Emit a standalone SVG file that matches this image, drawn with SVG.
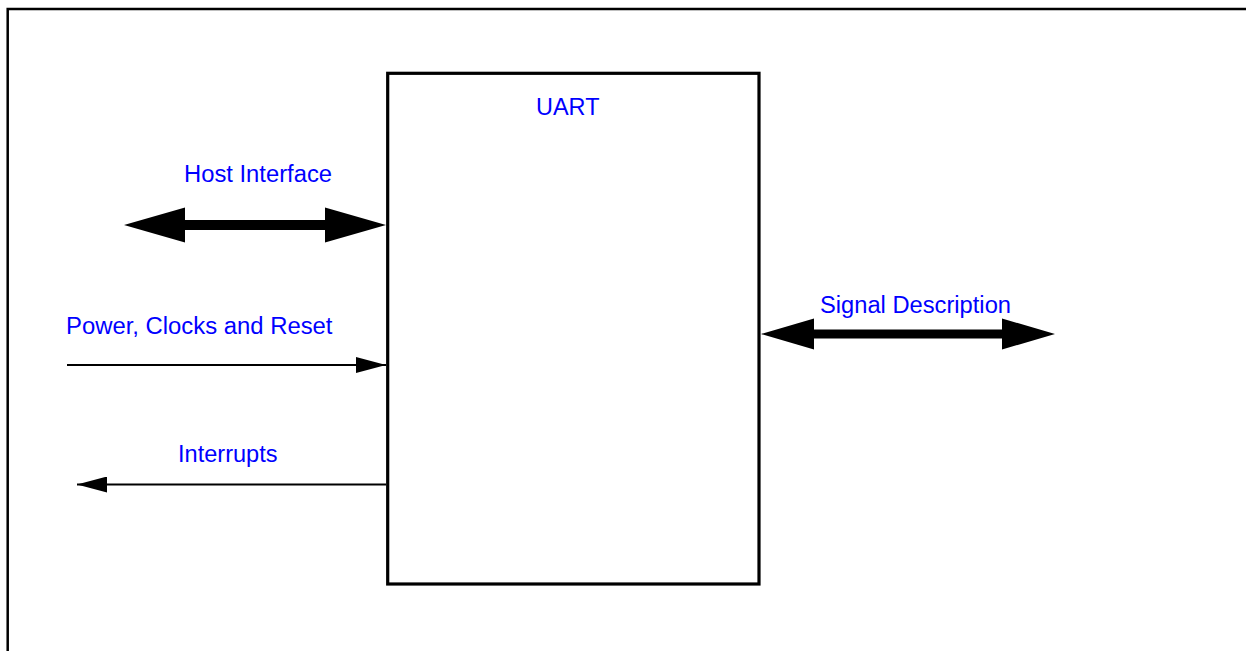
<svg xmlns="http://www.w3.org/2000/svg" width="1246" height="651" viewBox="0 0 1246 651">
<style>
  .frame { fill: none; stroke: #000; stroke-width: 2.5; }
  .box { fill: #fff; stroke: #000; stroke-width: 3.2; }
  .lbl { font-family: "Liberation Sans", Arial, sans-serif; font-size: 23px; fill: #0000ff; }
  .thin { stroke: #000; stroke-width: 2; fill: none; }
  .thick { fill: #000; stroke: none; }
</style>
<defs>
  <marker id="head" markerUnits="userSpaceOnUse" markerWidth="30" markerHeight="16" viewBox="0 0 30 16" refX="30" refY="8" orient="auto">
    <path d="M0,0 L30,8 L0,16 Z" fill="#000"/>
  </marker>
</defs>
<rect width="1246" height="651" fill="#fff"/>
<path class="frame" d="M7.7,651 V9 H1246"/>
<g id="uart">
  <rect class="box" x="387.7" y="73.3" width="371.3" height="510.7"/>
  <text class="lbl" x="536" y="115" textLength="63.5" lengthAdjust="spacingAndGlyphs">UART</text>
</g>
<g id="connectors">
  <g id="host-interface">
    <path class="thick" d="M124,225 L185,207.5 L185,220 L325,220 L325,207.5 L386,225 L325,242.5 L325,230 L185,230 L185,242.5 Z"/>
    <text class="lbl" x="184" y="182" textLength="148" lengthAdjust="spacingAndGlyphs">Host Interface</text>
  </g>
  <g id="power-clocks-reset">
    <line class="thin" x1="67" y1="365" x2="386" y2="365" marker-end="url(#head)"/>
    <text class="lbl" x="66" y="334" textLength="266.5" lengthAdjust="spacingAndGlyphs">Power, Clocks and Reset</text>
  </g>
  <g id="interrupts">
    <line class="thin" x1="386" y1="484.5" x2="77" y2="484.5" marker-end="url(#head)"/>
    <text class="lbl" x="178" y="462" textLength="99.5" lengthAdjust="spacingAndGlyphs">Interrupts</text>
  </g>
  <g id="signal-description">
    <path class="thick" d="M761,334 L814,318.5 L814,329.5 L1002,329.5 L1002,318.5 L1055,334 L1002,349.5 L1002,338.5 L814,338.5 L814,349.5 Z"/>
    <text class="lbl" x="820" y="313" textLength="191" lengthAdjust="spacingAndGlyphs">Signal Description</text>
  </g>
</g>
</svg>
